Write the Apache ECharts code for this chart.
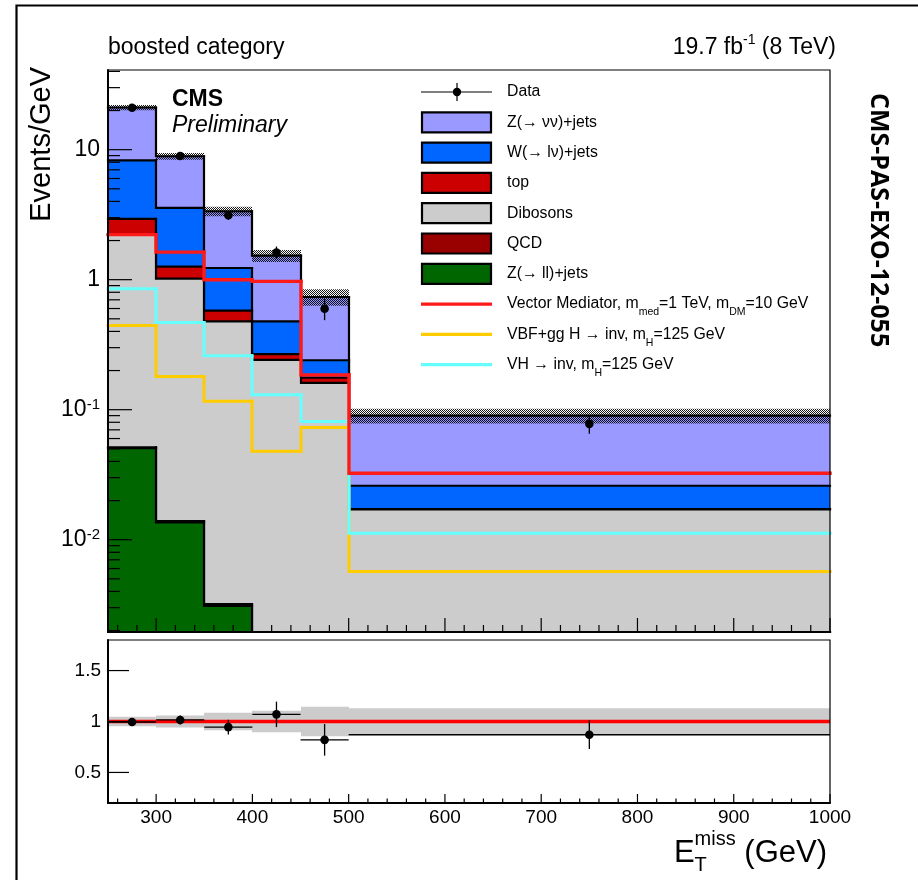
<!DOCTYPE html>
<html>
<head>
<meta charset="utf-8">
<script src="https://cdn.jsdelivr.net/npm/echarts@6/dist/echarts.min.js"></script>
<style>
  html, body { margin: 0; padding: 0; background: #fff; }
  #chart { width: 918px; height: 880px; }
</style>
</head>
<body>
<div id="chart"></div>
<script>
// MET bins (GeV) and per-bin yields in events/GeV
const binEdges = [250, 300, 350, 400, 450, 500, 1000];

// backgrounds, listed from the bottom of the stack to the top
const zllJets  = [0.0505, 0.0136, 0.0031, 0, 0, 0];
const qcd      = [0.0008, 0.0003, 0.0001, 0, 0, 0];
const dibosons = [2.169, 1.006, 0.475, 0.242, 0.161, 0.0171];
const topQuark = [0.72, 0.24, 0.099, 0.026, 0.015, 0.0001];
const wJets    = [5.32, 2.31, 0.653, 0.21, 0.064, 0.0088];
const znnJets  = [12.84, 5.33, 2.13, 1.052, 0.496, 0.064];

// relative background uncertainty per bin
const bkgUncert = [0.047, 0.06, 0.085, 0.105, 0.145, 0.13];

// observed data
const dataYield = [21.0, 8.95, 3.13, 1.62, 0.598, 0.0778];
const dataErr   = [0.65, 0.42, 0.25, 0.18, 0.11, 0.0125];

// signal hypotheses
const vectorMed = [2.22, 1.63, 1.0, 0.97, 0.185, 0.0324];
const vbfGgH    = [0.445, 0.18, 0.116, 0.048, 0.073, 0.0057];
const vhInv     = [0.85, 0.469, 0.26, 0.13, 0.081, 0.0112];

// data / background ratio
const ratioVal = [0.995, 1.015, 0.945, 1.07, 0.82, 0.87];
const ratioErr = [0.03, 0.045, 0.072, 0.125, 0.155, 0.14];

const xTickLabels = [300, 400, 500, 600, 700, 800, 900, 1000];

const FONT = "'Liberation Sans', Arial, Helvetica, sans-serif";
const C = {
  znn: '#9999ff', w: '#0066ff', top: '#cc0000', dib: '#cccccc', qcd: '#990000', zll: '#006600',
  vmed: '#ff1a1a', vbf: '#ffcc00', vh: '#66ffff'
};

const stackOrder = [
  { name: 'Z(→ ll)+jets', values: zllJets, color: C.zll },
  { name: 'QCD', values: qcd, color: C.qcd },
  { name: 'Dibosons', values: dibosons, color: C.dib },
  { name: 'top', values: topQuark, color: C.top },
  { name: 'W(→ lν)+jets', values: wJets, color: C.w },
  { name: 'Z(→ νν)+jets', values: znnJets, color: C.znn }
];
let running = dataYield.map(() => 0);
const cumulative = stackOrder.map(c => {
  running = running.map((r, i) => r + c.values[i]);
  return running.slice();
});
const totalBkg = cumulative[cumulative.length - 1];

// step-histogram item: [low edge, high edge, height, height of previous bin]
function stepData(vals) {
  return vals.map((v, i) => [binEdges[i], binEdges[i + 1], v, i > 0 ? vals[i - 1] : -1]);
}

function stepRender(fill, stroke, lw) {
  return function (params, api) {
    const cs = params.coordSys;
    const bottom = cs.y + cs.height;
    const yOf = v => (v > 0 ? Math.min(api.coord([binEdges[0], v])[1], bottom) : bottom);
    const x0 = Math.round(api.coord([api.value(0), 1])[0]);
    const x1 = Math.round(api.coord([api.value(1), 1])[0]);
    const yt = yOf(api.value(2));
    const prev = api.value(3);
    const pts = prev >= 0 ? [[x0, yOf(prev)], [x0, yt], [x1, yt]] : [[x0, yt], [x1, yt]];
    const children = [];
    if (fill) {
      children.push({ type: 'rect', z2: 0, shape: { x: x0, y: yt, width: x1 - x0, height: bottom - yt }, style: { fill: fill } });
    }
    children.push({ type: 'polyline', z2: 5, shape: { points: pts },
      style: { stroke: stroke, lineWidth: lw, fill: null, lineCap: 'square', lineJoin: 'miter' } });
    return { type: 'group', children: children };
  };
}

// fine checker used for the uncertainty band
const hatchCanvas = document.createElement('canvas');
hatchCanvas.width = 2; hatchCanvas.height = 2;
(function () {
  const g = hatchCanvas.getContext('2d');
  g.fillStyle = 'rgba(0,0,0,0.9)';
  g.fillRect(0, 0, 1, 1);
  g.fillRect(1, 1, 1, 1);
})();
const hatchPattern = { image: hatchCanvas, repeat: 'repeat' };

const series = [];

// stacked backgrounds, drawn from the full stack down to the first component
cumulative.slice().reverse().forEach((cum, j) => {
  const comp = stackOrder[stackOrder.length - 1 - j];
  series.push({
    type: 'custom', name: comp.name, xAxisIndex: 0, yAxisIndex: 0, z: 3 + j, silent: true,
    encode: { x: [0, 1], y: 2 },
    data: stepData(cum),
    renderItem: stepRender(comp.color, '#000', 2.2)
  });
});

// background uncertainty band on top of the stack
series.push({
  type: 'custom', name: 'bkg unc', xAxisIndex: 0, yAxisIndex: 0, z: 10, silent: true,
  encode: { x: [0, 1], y: 2 },
  data: totalBkg.map((t, i) => [binEdges[i], binEdges[i + 1], t, bkgUncert[i]]),
  renderItem: function (params, api) {
    const x0 = Math.round(api.coord([api.value(0), 1])[0]);
    const x1 = Math.round(api.coord([api.value(1), 1])[0]);
    const t = api.value(2), f = api.value(3);
    const yHi = api.coord([binEdges[0], t * (1 + f)])[1];
    const yLo = api.coord([binEdges[0], t * (1 - f)])[1];
    return { type: 'rect', shape: { x: x0, y: yHi, width: x1 - x0, height: yLo - yHi }, style: { fill: hatchPattern } };
  }
});

// signal hypotheses
[[vbfGgH, C.vbf, 3], [vhInv, C.vh, 3], [vectorMed, C.vmed, 3.4]].forEach(([vals, col, lw], k) => {
  series.push({
    type: 'custom', name: 'signal' + k, xAxisIndex: 0, yAxisIndex: 0, z: 11, silent: true,
    encode: { x: [0, 1], y: 2 },
    data: stepData(vals),
    renderItem: stepRender(null, col, lw)
  });
});

// data points
series.push({
  type: 'custom', name: 'Data', xAxisIndex: 0, yAxisIndex: 0, z: 12, silent: true,
  encode: { x: 0, y: 1 },
  data: dataYield.map((v, i) => [(binEdges[i] + binEdges[i + 1]) / 2, v, dataErr[i]]),
  renderItem: function (params, api) {
    const x = api.value(0), v = api.value(1), e = api.value(2);
    const p = api.coord([x, v]);
    const up = api.coord([x, v + e])[1];
    const dn = api.coord([x, v - e])[1];
    return { type: 'group', children: [
      { type: 'line', shape: { x1: p[0], y1: up, x2: p[0], y2: dn }, style: { stroke: '#000', lineWidth: 1.3 } },
      { type: 'circle', shape: { cx: p[0], cy: p[1], r: 4.3 }, style: { fill: '#000' } }
    ] };
  }
});

// ratio panel: uncertainty band, unity line, data/bkg points
series.push({
  type: 'custom', name: 'ratio band', xAxisIndex: 1, yAxisIndex: 1, z: 3, silent: true,
  encode: { x: [0, 1], y: 2 },
  data: bkgUncert.map((f, i) => [binEdges[i], binEdges[i + 1], 1, f]),
  renderItem: function (params, api) {
    const x0 = Math.round(api.coord([api.value(0), 1])[0]);
    const x1 = Math.round(api.coord([api.value(1), 1])[0]);
    const f = api.value(3);
    const yHi = api.coord([binEdges[0], api.value(2) + f])[1];
    const yLo = api.coord([binEdges[0], api.value(2) - f])[1];
    return { type: 'rect', shape: { x: x0, y: yHi, width: x1 - x0, height: yLo - yHi }, style: { fill: '#cccccc' } };
  }
});
series.push({
  type: 'line', name: 'unity', xAxisIndex: 1, yAxisIndex: 1, z: 4, silent: true,
  symbol: 'none', data: [[binEdges[0], 1], [binEdges[binEdges.length - 1], 1]],
  lineStyle: { color: '#ff0000', width: 3.5 }
});
series.push({
  type: 'custom', name: 'ratio', xAxisIndex: 1, yAxisIndex: 1, z: 5, silent: true,
  encode: { x: [0, 1], y: 2 },
  data: ratioVal.map((r, i) => [binEdges[i], binEdges[i + 1], r, ratioErr[i]]),
  renderItem: function (params, api) {
    const lo = api.value(0), hi = api.value(1), r = api.value(2), e = api.value(3);
    const xc = (lo + hi) / 2;
    const p = api.coord([xc, r]);
    const xl = api.coord([lo, r])[0], xh = api.coord([hi, r])[0];
    const up = api.coord([xc, r + e])[1], dn = api.coord([xc, r - e])[1];
    return { type: 'group', children: [
      { type: 'line', shape: { x1: xl, y1: p[1], x2: xh, y2: p[1] }, style: { stroke: '#000', lineWidth: 1.3 } },
      { type: 'line', shape: { x1: p[0], y1: up, x2: p[0], y2: dn }, style: { stroke: '#000', lineWidth: 1.3 } },
      { type: 'circle', shape: { cx: p[0], cy: p[1], r: 4.3 }, style: { fill: '#000' } }
    ] };
  }
});

// axis ticks (ROOT style, drawn inside the frame)
const mainYTicks = [];
for (let e = -3; e <= 1; e++) {
  for (let m = 1; m <= 9; m++) {
    const v = m * Math.pow(10, e);
    if (v > 0.00195 && v < 41) mainYTicks.push([v, m === 1 ? 24 : 12]);
  }
}
const mainXTicks = [], ratioXTicks = [];
for (let v = 260; v <= 1000; v += 20) {
  mainXTicks.push([v, v % 100 === 0 ? 14 : 7]);
  ratioXTicks.push([v, v % 100 === 0 ? 9 : 4.5]);
}
const ratioYTicks = [[0.5, 21], [1, 21], [1.5, 21]];

function yTickRender(params, api) {
  const cs = params.coordSys;
  const y = api.coord([binEdges[0], api.value(0)])[1];
  return { type: 'line', shape: { x1: cs.x, y1: y, x2: cs.x + api.value(1), y2: y }, style: { stroke: '#000', lineWidth: 1.2 } };
}
function xTickRender(params, api) {
  const cs = params.coordSys;
  const x = api.coord([api.value(0), 1])[0];
  const b = cs.y + cs.height;
  return { type: 'line', shape: { x1: x, y1: b, x2: x, y2: b - api.value(1) }, style: { stroke: '#000', lineWidth: 1.2 } };
}
[[0, mainYTicks, yTickRender, { y: 0 }], [0, mainXTicks, xTickRender, { x: 0 }],
 [1, ratioYTicks, yTickRender, { y: 0 }], [1, ratioXTicks, xTickRender, { x: 0 }]].forEach(([g, d, r, enc], k) => {
  series.push({ type: 'custom', name: 'ticks' + k, xAxisIndex: g, yAxisIndex: g, z: 21, silent: true, encode: enc, data: d, renderItem: r });
});

// ---- text helpers ----
const mctx = document.createElement('canvas').getContext('2d');
function fontStr(p, fam) {
  return (p.style || 'normal') + ' ' + (p.weight || 'normal') + ' ' + p.size + 'px ' + (fam || FONT);
}
function measure(t, p) { mctx.font = fontStr(p); return mctx.measureText(t).width; }
// lays out text pieces (with sub/superscripts); y is the centre line of the base text
function textRun(x, y, pieces, anchor) {
  let maxEnd = 0, lastStart = 0;
  const placed = pieces.map(p => {
    const start = p.sameX ? lastStart : maxEnd;
    const w = measure(p.t, p);
    maxEnd = Math.max(maxEnd, start + w);
    lastStart = start;
    return { p: p, start: start };
  });
  const x0 = anchor === 'right' ? x - maxEnd : x;
  return placed.map(o => ({
    type: 'text', silent: true, z: 30, x: x0 + o.start, y: y + (o.p.dy || 0),
    style: { text: o.p.t, font: fontStr(o.p), fill: '#000', align: 'left', verticalAlign: 'middle' }
  }));
}

const graphics = [];
// outer frame
graphics.push({ type: 'rect', silent: true, z: 30, shape: { x: 16.5, y: 5.5, width: 920, height: 900 },
  style: { fill: null, stroke: '#000', lineWidth: 2.2 } });

graphics.push(...textRun(108, 48, [{ t: 'boosted category', size: 23 }]));
graphics.push(...textRun(836, 48, [
  { t: '19.7 fb', size: 23 }, { t: '-1', size: 14, dy: -8 }, { t: ' (8 TeV)', size: 23 }
], 'right'));
graphics.push(...textRun(172, 100, [{ t: 'CMS', size: 23, weight: 'bold' }]));
graphics.push(...textRun(172, 126, [{ t: 'Preliminary', size: 23, style: 'italic' }]));

// y-axis title
graphics.push({ type: 'text', silent: true, z: 30, x: 42, y: 67, rotation: Math.PI / 2,
  style: { text: 'Events/GeV', font: 'normal normal 29px ' + FONT, fill: '#000', align: 'right', verticalAlign: 'middle' } });
// x-axis title
graphics.push(...textRun(827, 853, [
  { t: 'E', size: 31 }, { t: 'miss', size: 20, dy: -14 }, { t: 'T', size: 20, dy: 12, sameX: true },
  { t: ' (GeV)', size: 31 }
], 'right'));
// document tag
graphics.push({ type: 'text', silent: true, z: 30, x: 878, y: 93, rotation: -Math.PI / 2,
  style: { text: 'CMS-PAS-EXO-12-055', font: "normal bold 25px 'Open Sans', 'DejaVu Sans', sans-serif",
    fill: '#000', align: 'left', verticalAlign: 'middle' } });

// legend
const legendEntries = [
  { mark: 'data', label: [{ t: 'Data' }] },
  { mark: 'box', color: C.znn, label: [{ t: 'Z(→ νν)+jets' }] },
  { mark: 'box', color: C.w, label: [{ t: 'W(→ lν)+jets' }] },
  { mark: 'box', color: C.top, label: [{ t: 'top' }] },
  { mark: 'box', color: C.dib, label: [{ t: 'Dibosons' }] },
  { mark: 'box', color: C.qcd, label: [{ t: 'QCD' }] },
  { mark: 'box', color: C.zll, label: [{ t: 'Z(→ ll)+jets' }] },
  { mark: 'line', color: C.vmed, label: [{ t: 'Vector Mediator, m' }, { t: 'med', sub: true }, { t: '=1 TeV, m' }, { t: 'DM', sub: true }, { t: '=10 GeV' }] },
  { mark: 'line', color: C.vbf, label: [{ t: 'VBF+gg H → inv, m' }, { t: 'H', sub: true }, { t: '=125 GeV' }] },
  { mark: 'line', color: C.vh, label: [{ t: 'VH → inv, m' }, { t: 'H', sub: true }, { t: '=125 GeV' }] }
];
legendEntries.forEach((en, i) => {
  const y = 92 + i * 30.3;
  const mx0 = 421, mx1 = 492;
  if (en.mark === 'data') {
    graphics.push({ type: 'line', silent: true, z: 30, shape: { x1: mx0, y1: y, x2: mx1, y2: y }, style: { stroke: '#000', lineWidth: 1.2 } });
    graphics.push({ type: 'line', silent: true, z: 30, shape: { x1: 457, y1: y - 9, x2: 457, y2: y + 9 }, style: { stroke: '#000', lineWidth: 1.2 } });
    graphics.push({ type: 'circle', silent: true, z: 30, shape: { cx: 457, cy: y, r: 4.2 }, style: { fill: '#000' } });
  } else if (en.mark === 'box') {
    graphics.push({ type: 'rect', silent: true, z: 30, shape: { x: mx0 + 1, y: y - 10, width: mx1 - mx0 - 2, height: 20 },
      style: { fill: en.color, stroke: '#000', lineWidth: 2.2 } });
  } else {
    graphics.push({ type: 'line', silent: true, z: 30, shape: { x1: mx0, y1: y, x2: mx1, y2: y }, style: { stroke: en.color, lineWidth: 3.2 } });
  }
  graphics.push(...textRun(507, y, en.label.map(p => p.sub ? { t: p.t, size: 10.5, dy: 8.5 } : { t: p.t, size: 15.8 })));
});

const option = {
  animation: false,
  backgroundColor: '#fff',
  grid: [
    { left: 108, top: 70, width: 722, height: 562, show: true, borderColor: '#000', borderWidth: 1.2, backgroundColor: 'transparent', z: 20 },
    { left: 108, top: 640, width: 722, height: 163, show: true, borderColor: '#000', borderWidth: 1.2, backgroundColor: 'transparent', z: 20 }
  ],
  xAxis: [
    { gridIndex: 0, type: 'value', min: binEdges[0], max: binEdges[binEdges.length - 1], z: 20,
      axisLine: { onZero: false, lineStyle: { color: '#000', width: 2 } }, axisTick: { show: false },
      axisLabel: { show: false }, splitLine: { show: false } },
    { gridIndex: 1, type: 'value', min: binEdges[0], max: binEdges[binEdges.length - 1], splitNumber: 8, z: 20,
      axisLine: { onZero: false, lineStyle: { color: '#000', width: 2 } }, axisTick: { show: false },
      axisLabel: { color: '#000', fontFamily: FONT, fontSize: 19, margin: 5,
        formatter: v => (xTickLabels.indexOf(Math.round(v)) >= 0 && Math.abs(v - Math.round(v)) < 1e-6 ? String(Math.round(v)) : '') },
      splitLine: { show: false } }
  ],
  yAxis: [
    { gridIndex: 0, type: 'log', logBase: 10, min: 0.00195, max: 41, z: 20,
      axisLine: { show: true, onZero: false, lineStyle: { color: '#000', width: 2 } }, axisTick: { show: false },
      splitLine: { show: false },
      axisLabel: {
        margin: 8, color: '#000',
        formatter: function (v) {
          const l = Math.log10(v), k = Math.round(l);
          if (Math.abs(l - k) > 1e-6) return '';
          return k >= 0 ? '{b|' + Math.pow(10, k) + '}' : '{b|10}{s|' + k + '}';
        },
        rich: {
          b: { fontFamily: FONT, fontSize: 23, color: '#000', lineHeight: 24 },
          s: { fontFamily: FONT, fontSize: 15, color: '#000', lineHeight: 8, verticalAlign: 'top' }
        }
      } },
    { gridIndex: 1, type: 'value', min: 0.2, max: 1.8, splitNumber: 3, z: 20,
      axisLine: { show: true, onZero: false, lineStyle: { color: '#000', width: 2 } }, axisTick: { show: false },
      splitLine: { show: false },
      axisLabel: { color: '#000', fontFamily: FONT, fontSize: 19, margin: 7,
        formatter: v => (Math.abs(v * 2 - Math.round(v * 2)) < 1e-6 && v > 0.3 && v < 1.7 ? String(+v.toFixed(1)) : '') } }
  ],
  series: series,
  graphic: { elements: graphics }
};

const chart = echarts.init(document.getElementById('chart'), null, { renderer: 'canvas' });
chart.setOption(option);
</script>
</body>
</html>
